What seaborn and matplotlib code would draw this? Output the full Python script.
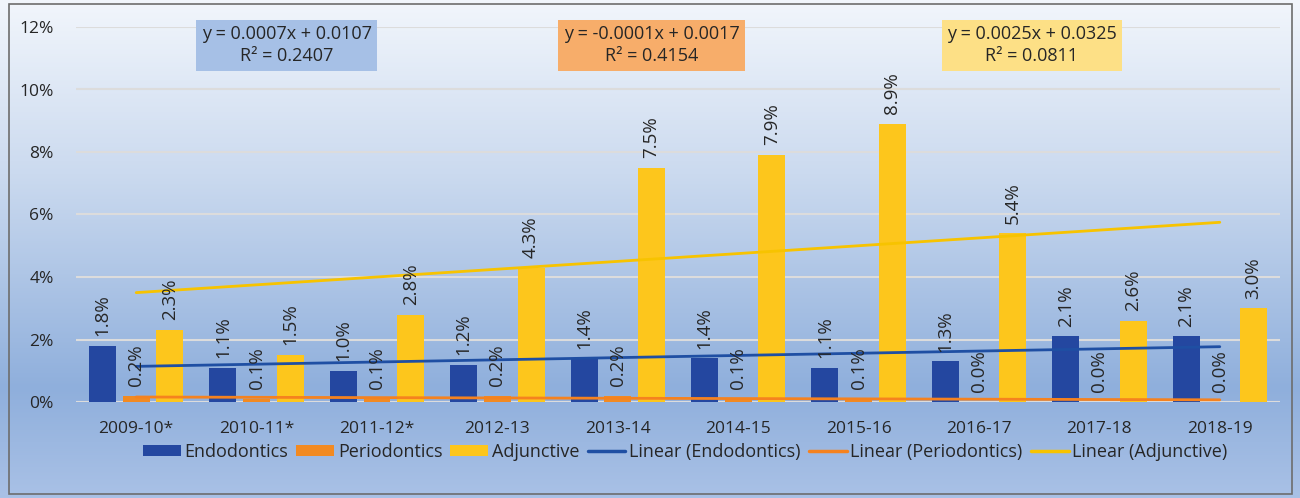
import numpy as np
import pandas as pd
import seaborn as sns
import matplotlib.pyplot as plt
from matplotlib.colors import LinearSegmentedColormap
from matplotlib.patches import Patch, Rectangle
from matplotlib.lines import Line2D

# chart values (percent)
periods = ['2009-10*', '2010-11*', '2011-12*', '2012-13', '2013-14',
           '2014-15', '2015-16', '2016-17', '2017-18', '2018-19']
series_names = ['Endodontics', 'Periodontics', 'Adjunctive']
endodontics = [1.8, 1.1, 1.0, 1.2, 1.4, 1.4, 1.1, 1.3, 2.1, 2.1]
periodontics = [0.2, 0.1, 0.1, 0.2, 0.2, 0.1, 0.1, 0.0, 0.0, 0.0]
adjunctive = [2.3, 1.5, 2.8, 4.3, 7.5, 7.9, 8.9, 5.4, 2.6, 3.0]

# Excel trendline equations (x = 1..n)
trend_slopes = [0.0007, -0.0001, 0.0025]
trend_intercepts = [0.0107, 0.0017, 0.0325]
trend_r2 = [0.2407, 0.4154, 0.0811]

bar_colors = ['#2447a0', '#f28a22', '#fdc61c']
line_colors = ['#1f4fa3', '#f5821f', '#f7c300']
box_colors = ['#a6c0e6', '#f7ad6a', '#fde086']
text_color = '#262626'

df = pd.DataFrame({
    'period': periods * 3,
    'series': np.repeat(series_names, len(periods)),
    'value': endodontics + periodontics + adjunctive,
})

sns.set_style('white')
plt.rcParams['font.family'] = ['Open Sans', 'DejaVu Sans']

fig = plt.figure(figsize=(13, 4.98), dpi=100)

# gradient background behind everything
bg = fig.add_axes([0, 0, 1, 1], zorder=-10)
bg_cmap = LinearSegmentedColormap.from_list(
    'bg', [(0, '#f2f6fc'), (0.35, '#cbdaef'), (0.78, '#8fafdc'), (1.0, '#a9c1e6')])
bg.imshow(np.linspace(0, 1, 256).reshape(-1, 1), aspect='auto', cmap=bg_cmap,
          extent=[0, 1, 0, 1], origin='upper')
bg.axis('off')
bg.add_patch(Rectangle((9 / 1300, 4 / 498), 1283 / 1300, 490 / 498,
                       fill=False, ec='#6d6d6d', lw=1.2, transform=bg.transAxes))

ax = fig.add_axes([76 / 1300, 96 / 498, 1204 / 1300, 375 / 498])
ax.set_facecolor('none')

sns.barplot(data=df, x='period', y='value', hue='series', palette=bar_colors,
            saturation=1, width=0.84, gap=0.2, legend=False, ax=ax,
            edgecolor='none', linewidth=0, zorder=2)

for cont in ax.containers:
    ax.bar_label(cont, labels=[f'{v:.1f}%' for v in cont.datavalues],
                 rotation=90, padding=7, fontsize=13.5, color=text_color, zorder=5)

# trendlines from the displayed equations
xs = np.arange(len(periods))
for m, b, c in zip(trend_slopes, trend_intercepts, line_colors):
    ax.plot(xs, (m * (xs + 1) + b) * 100, color=c, lw=2, zorder=4)

# equation boxes
box_x = [1.25, 4.28, 7.44]
for m, b, r2, fc, bx in zip(trend_slopes, trend_intercepts, trend_r2, box_colors, box_x):
    sign = '+' if b >= 0 else '-'
    ax.text(bx, 11.42, f'y = {m:.4f}x {sign} {abs(b):.4f}\nR² = {r2:.4f}',
            ha='center', va='center', fontsize=13, color=text_color,
            linespacing=1.3, zorder=6,
            bbox=dict(boxstyle='square,pad=0.3', fc=fc, ec='none'))

ax.set_ylim(0, 12)
ax.set_xlim(-0.5, len(periods) - 0.5)
ax.set_yticks(range(0, 13, 2))
ax.set_yticklabels([f'{t}%' for t in range(0, 13, 2)])
ax.grid(axis='y', color='#dcdcdc', lw=1.5, zorder=0)
ax.set_axisbelow(True)
ax.set_xlabel('')
ax.set_ylabel('')
ax.tick_params(axis='both', length=0, labelsize=12.5, labelcolor=text_color)
ax.tick_params(axis='x', pad=14)
ax.tick_params(axis='y', pad=16)
for s in ax.spines.values():
    s.set_visible(False)

handles = [Patch(fc=c, ec='none') for c in bar_colors] + \
          [Line2D([], [], color=c, lw=2.5) for c in line_colors]
labels = series_names + [f'Linear ({n})' for n in series_names]
fig.legend(handles, labels, loc='center', bbox_to_anchor=(0.527, 0.092), ncol=6,
           frameon=False, fontsize=13, handlelength=2.1, handleheight=0.55,
           handletextpad=0.2, columnspacing=0.45, labelcolor=text_color)

fig.savefig('out.png', dpi=100)
